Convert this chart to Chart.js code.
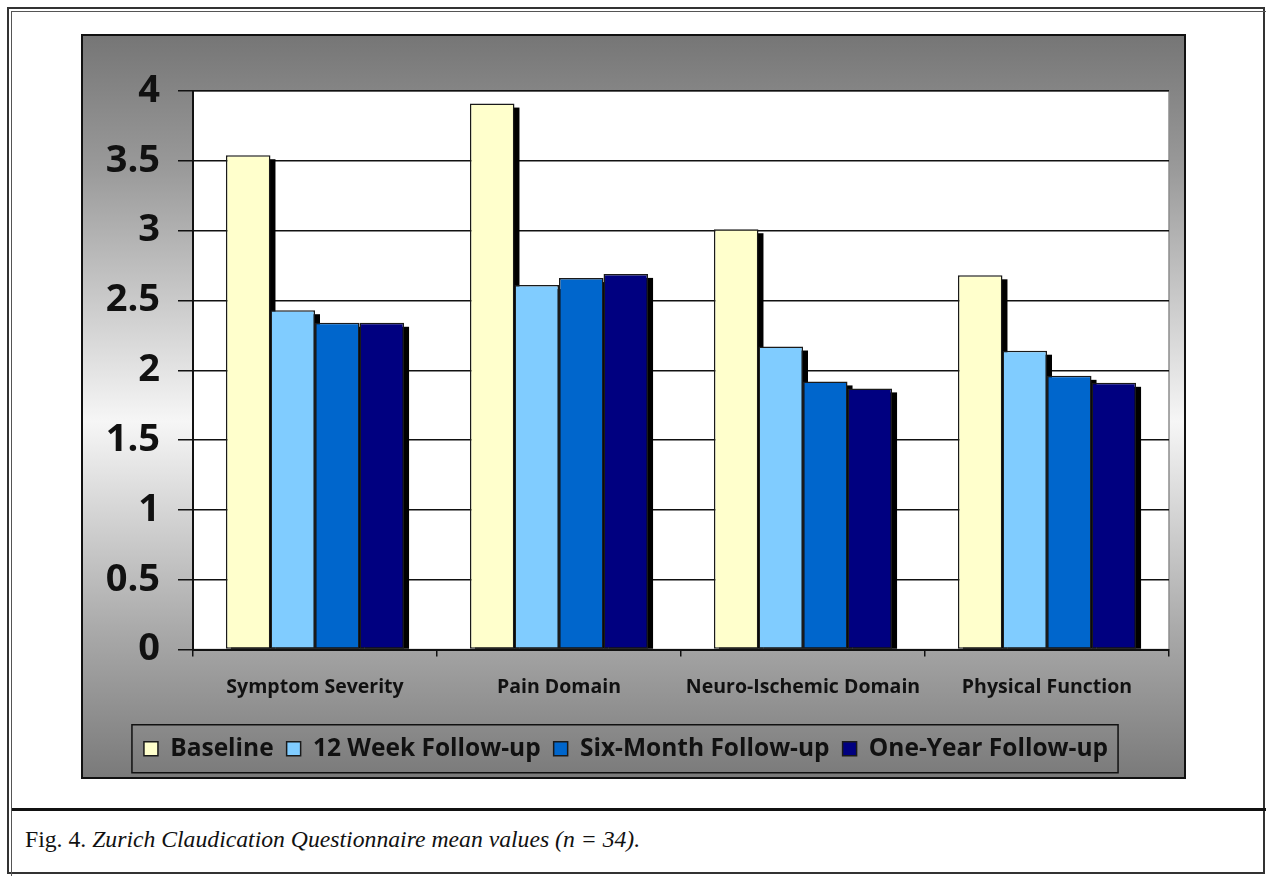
<!DOCTYPE html>
<html>
<head>
<meta charset="utf-8">
<script src="https://cdn.jsdelivr.net/npm/chart.js@4"></script>
<style>
    body { margin: 0; background: #fff; }
    #page { position: relative; width: 1266px; height: 876px; overflow: hidden; }
    #frameOuter { position: absolute; left: 7px; top: 7px; width: 1258px; height: 867px; border: 2px solid #333; box-sizing: border-box; }
    #frameInner { position: absolute; left: 11px; top: 11px; width: 1260px; height: 870px; border-left: 1px solid #555; border-top: 1px solid #555; box-sizing: border-box; }
    #panel {
        position: absolute; left: 81px; top: 34px; width: 1105px; height: 745px;
        border: 2px solid #111; box-sizing: border-box;
        background: linear-gradient(to bottom, #767676 0%, #9a9a9a 18%, #f6f6f6 52%, #aaaaaa 80%, #7a7a7a 100%);
    }
    #panel canvas { position: absolute; left: 0; top: 0; }
    #rule { position: absolute; left: 12px; top: 808px; width: 1254px; height: 3px; background: #111; }
    #caption { position: absolute; left: 25px; top: 826px; font-family: "Liberation Serif", serif; font-size: 23.7px; color: #111; white-space: nowrap; }
    #caption i { font-style: italic; }
</style>
</head>
<body>
<div id="page">
    <div id="frameOuter"></div>
    <div id="frameInner"></div>
    <div id="panel"><canvas id="zcqChart" width="1101" height="741"></canvas></div>
    <div id="rule"></div>
    <div id="caption">Fig. 4. <i>Zurich Claudication Questionnaire mean values (n = 34).</i></div>
</div>
<script>
// categories and series
const categories = ["Symptom Severity", "Pain Domain", "Neuro-Ischemic Domain", "Physical Function"];
const baseline = [3.54, 3.91, 3.01, 2.68];
const week12 = [2.43, 2.61, 2.17, 2.14];
const sixMonth = [2.34, 2.66, 1.92, 1.96];
const oneYear = [2.34, 2.69, 1.87, 1.91];
const seriesNames = ["Baseline", "12 Week Follow-up", "Six-Month Follow-up", "One-Year Follow-up"];
const seriesColors = ["#FFFFCC", "#80CCFF", "#0066CC", "#000080"];
const yTicks = [0, 0.5, 1, 1.5, 2, 2.5, 3, 3.5, 4];

const fontFamily = "'Open Sans', Lato, sans-serif";

// white plot area with a grey frame
const plotBackground = {
    id: "plotBackground",
    beforeDraw(chart) {
        const { ctx, chartArea } = chart;
        ctx.save();
        ctx.fillStyle = "#ffffff";
        ctx.fillRect(chartArea.left, chartArea.top, chartArea.right - chartArea.left, chartArea.bottom - chartArea.top);
        ctx.strokeStyle = "#8c8c8c";
        ctx.lineWidth = 1.5;
        ctx.strokeRect(chartArea.left, chartArea.top, chartArea.right - chartArea.left, chartArea.bottom - chartArea.top);
        ctx.restore();
    }
};

// black drop shadow behind each bar (Excel style)
const barShadow = {
    id: "barShadow",
    beforeDatasetsDraw(chart) {
        const ctx = chart.ctx;
        ctx.save();
        ctx.fillStyle = "#000000";
        chart.data.datasets.forEach((ds, i) => {
            chart.getDatasetMeta(i).data.forEach(bar => {
                const p = bar.getProps(["x", "y", "base", "width"], true);
                ctx.fillRect(p.x - p.width / 2 + 5, p.y + 4, p.width, p.base - p.y - 4);
            });
        });
        ctx.restore();
    }
};

// box round the legend
const legendBox = {
    id: "legendBox",
    afterDraw(chart) {
        const boxes = chart.legend.legendHitBoxes;
        if (!boxes || !boxes.length) return;
        let left = Infinity, right = -Infinity, top = Infinity, bottom = -Infinity;
        boxes.forEach(b => {
            left = Math.min(left, b.left);
            right = Math.max(right, b.left + b.width);
            top = Math.min(top, b.top);
            bottom = Math.max(bottom, b.top + b.height);
        });
        const cy = (top + bottom) / 2;
        const ctx = chart.ctx;
        ctx.save();
        ctx.strokeStyle = "#111";
        ctx.lineWidth = 1.5;
        ctx.strokeRect(left - 12, cy - 24, right - left + 22, 48);
        ctx.restore();
    }
};

const ctx = document.getElementById("zcqChart").getContext("2d");
new Chart(ctx, {
    type: "bar",
    data: {
        labels: categories,
        datasets: [baseline, week12, sixMonth, oneYear].map((values, i) => ({
            label: seriesNames[i],
            data: values,
            backgroundColor: seriesColors[i],
            borderColor: "#1a1a1a",
            borderWidth: 1.5,
            borderSkipped: false,
            barPercentage: 1.0,
            categoryPercentage: 0.73
        }))
    },
    options: {
        responsive: false,
        animation: false,
        layout: { padding: { top: 55, right: 15, left: 0, bottom: 6 } },
        plugins: {
            tooltip: { enabled: false },
            legend: {
                position: "bottom",
                labels: {
                    color: "#111",
                    boxWidth: 14,
                    boxHeight: 14,
                    padding: 13,
                    font: { family: fontFamily, size: 24.5, weight: "bold" }
                }
            }
        },
        scales: {
            x: {
                grid: { display: true, drawOnChartArea: false, tickLength: 7, color: "#111", lineWidth: 1.5 },
                border: { color: "#111", width: 2 },
                ticks: { color: "#111", padding: 19, font: { family: fontFamily, size: 19.5, weight: "bold" } },
                afterFit(scale) { scale.height = 74; }
            },
            y: {
                min: 0,
                max: 4,
                afterBuildTicks(scale) { scale.ticks = yTicks.map(v => ({ value: v })); },
                grid: { color: "#111", lineWidth: 1.5, tickLength: 15 },
                border: { color: "#111", width: 2 },
                ticks: {
                    color: "#111",
                    padding: 18,
                    font: { family: fontFamily, size: 38, weight: "bold" },
                    callback: value => String(value)
                },
                afterFit(scale) { scale.width = 110; }
            }
        }
    },
    plugins: [plotBackground, barShadow, legendBox]
});
</script>
</body>
</html>
